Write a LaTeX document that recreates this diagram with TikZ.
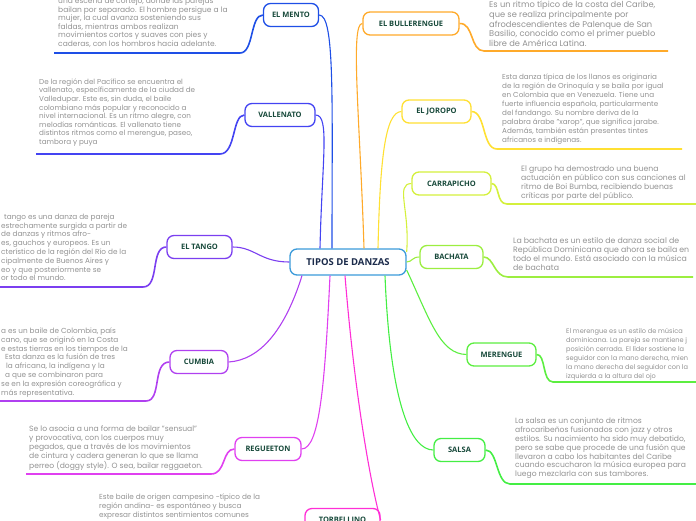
\documentclass[tikz,border=0pt]{standalone}
\usepackage{fontspec}
\setmainfont{Poppins}
\newfontfamily\titlefont{Open Sans}
\definecolor{cmento}{HTML}{1E4FE6}
\definecolor{cvall}{HTML}{4444F2}
\definecolor{ctango}{HTML}{7B3FF0}
\definecolor{ccumbia}{HTML}{B040F0}
\definecolor{creg}{HTML}{E040F0}
\definecolor{ctorb}{HTML}{FF2FD6}
\definecolor{cbull}{HTML}{FFAA2A}
\definecolor{cjor}{HTML}{FFE033}
\definecolor{ccarr}{HTML}{D4F03C}
\definecolor{cbach}{HTML}{9CEE40}
\definecolor{cmer}{HTML}{5CEE40}
\definecolor{csal}{HTML}{44EE44}
\definecolor{ccenter}{HTML}{3B9BDA}
\definecolor{notegray}{HTML}{929292}
\definecolor{titlegreen}{HTML}{17493A}
\definecolor{centertext}{HTML}{1A2A4A}
\begin{document}
\begin{tikzpicture}[x=1pt,y=-1pt,
  note/.style={anchor=north west, inner sep=0pt, align=left, text=notegray},
  topic/.style={draw, rounded corners=7pt, line width=1.3pt, fill=white, text=titlegreen,
    font=\titlefont\bfseries\fontsize{7.5}{9}\selectfont, minimum height=23pt, inner xsep=4pt},
  conn/.style={line width=1.1pt},
  uline/.style={line width=1.6pt}]
\useasboundingbox (0,0) rectangle (696,520);

% ---------- topics ----------
\node[topic, draw=ccenter, text=centertext, minimum width=116pt, minimum height=26pt,
  font=\titlefont\bfseries\fontsize{9.5}{11}\selectfont] (ctr) at (348,262) {TIPOS DE DANZAS};
\node[topic, draw=cmento, minimum width=55pt] (mento) at (291,15) {EL MENTO};
\node[topic, draw=cvall, minimum width=70pt] (vall) at (280,115) {VALLENATO};
\node[topic, draw=ctango, minimum width=65pt] (tango) at (199.5,247) {EL TANGO};
\node[topic, draw=ccumbia, minimum width=58pt] (cumbia) at (199,362) {CUMBIA};
\node[topic, draw=creg, minimum width=66pt] (reg) at (268,449) {REGUEETON};
\node[topic, draw=ctorb, minimum width=75pt] (torb) at (342.5,520) {TORBELLINO};
\node[topic, draw=cbull, minimum width=96pt] (bull) at (411,23.5) {EL BULLERENGUE};
\node[topic, draw=cjor, minimum width=69pt] (jor) at (436.5,111.5) {EL JOROPO};
\node[topic, draw=ccarr, minimum width=79pt] (carr) at (451.5,183.5) {CARRAPICHO};
\node[topic, draw=cbach, minimum width=63pt] (bach) at (451.5,257) {BACHATA};
\node[topic, draw=cmer, minimum width=69pt] (mer) at (501.5,354.5) {MERENGUE};
\node[topic, draw=csal, minimum width=51pt] (sal) at (459.5,450) {SALSA};

% ---------- connectors from centre ----------
\draw[conn, cmento] ([xshift=-16pt]ctr.north) .. controls (332,100) and (335,15) .. (mento.east);
\draw[conn, cvall] ([xshift=-28pt]ctr.north) .. controls (322,160) and (330,115) .. (vall.east);
\draw[conn, ctango] (ctr.west) .. controls (260,262) and (255,247) .. (tango.east);
\draw[conn, ccumbia] ([xshift=-46pt]ctr.south) .. controls (285,330) and (260,360) .. (cumbia.east);
\draw[conn, creg] ([xshift=-18pt]ctr.south) .. controls (325,380) and (320,449) .. (reg.east);
\draw[conn, ctorb] ([xshift=-3pt]ctr.south) .. controls (355,400) and (372,490) .. (torb.east);
\draw[conn, cbull] ([xshift=16pt]ctr.north) .. controls (360,120) and (350,23) .. (bull.west);
\draw[conn, cjor] ([xshift=30pt]ctr.north) .. controls (380,160) and (385,112) .. (jor.west);
\draw[conn, ccarr] ([yshift=10pt]ctr.east) .. controls (410,210) and (395,184) .. (carr.west);
\draw[conn, cbach] (ctr.east) .. controls (412,262) and (412,257) .. (bach.west);
\draw[conn, cmer] ([yshift=-8pt]ctr.east) .. controls (430,320) and (440,354) .. (mer.west);
\draw[conn, csal] ([xshift=37pt]ctr.south) .. controls (390,400) and (410,450) .. (sal.west);

% ---------- notes: left side ----------
\node[note, font=\fontsize{7.5}{8.5}\selectfont] (tmento) at (58,-2) {una escena de cortejo, donde las parejas\\
bailan por separado. El hombre persigue a la\\
mujer, la cual avanza sosteniendo sus\\
faldas, mientras ambos realizan\\
movimientos cortos y suaves con pies y\\
caderas, con los hombros hacia adelante.};
\coordinate (mentoL) at (54,53);
\coordinate (mentoR) at (240,53);
\draw[uline, cmento] (mentoL) -- (mentoR) .. controls (254,53) and (250,15) .. (mento.west);

\node[note, font=\fontsize{7.2}{8.6}\selectfont] (tvall) at (39,78.5) {De la región del Pacífico se encuentra el\\
vallenato, específicamente de la ciudad de\\
Valledupar. Este es, sin duda, el baile\\
colombiano más popular y reconocido a\\
nivel internacional. Es un ritmo alegre, con\\
melodías románticas. El vallenato tiene\\
distintos ritmos como el merengue, paseo,\\
tambora y puya};
\coordinate (vallL) at (36,154);
\coordinate (vallR) at (220,154);
\draw[uline, cvall] (vallL) -- (vallR) .. controls (236,154) and (232,115) .. (vall.west);

\node[note, font=\fontsize{7.3}{8.8}\selectfont] (ttango) at (1,213.5) {\hspace*{3pt}tango es una danza de pareja\\
estrechamente surgida a partir de\\
de danzas y ritmos afro-\\
es, gauchos y europeos. Es un\\
cterístico de la región del Río de la\\
cipalmente de Buenos Aires y\\
eo y que posteriormente se\\
or todo el mundo.};
\coordinate (tangoL) at (0,287);
\coordinate (tangoR) at (143,287);
\draw[uline, ctango] (tangoL) -- (tangoR) .. controls (160,287) and (150,247) .. (tango.west);

\node[note, font=\fontsize{7.3}{8.85}\selectfont] (tcumbia) at (1,327.5) {a es un baile de Colombia, país\\
cano, que se originó en la Costa\\
e estas tierras en los tiempos de la\\
\hspace*{4pt}Esta danza es la fusión de tres\\
\hspace*{5pt}la africana, la indígena y la\\
\hspace*{4pt}a que se combinaron para\\
se en la expresión coreográfica y\\
más representativa.};
\coordinate (cumbiaL) at (0,401);
\coordinate (cumbiaR) at (146,401);
\draw[uline, ccumbia] (cumbiaL) -- (cumbiaR) .. controls (162,401) and (152,362) .. (cumbia.west);

\node[note, font=\fontsize{7.6}{9.1}\selectfont] (treg) at (29,425) {Se lo asocia a una forma de bailar "sensual"\\
y provocativa, con los cuerpos muy\\
pegados, que a través de los movimientos\\
de cintura y cadera generan lo que se llama\\
perreo (doggy style). O sea, bailar reggaeton.};
\coordinate (regL) at (26,474);
\coordinate (regR) at (211,474);
\draw[uline, creg] (regL) -- (regR) .. controls (226,474) and (222,449) .. (reg.west);

\node[note, font=\fontsize{7.3}{9}\selectfont] (ttorb) at (99,493.5) {Este baile de origen campesino -típico de la\\
región andina- es espontáneo y busca\\
expresar distintos sentimientos comunes};

% ---------- notes: right side ----------
\node[note, font=\fontsize{8.3}{9.75}\selectfont] (tbull) at (489,1) {Es un ritmo típico de la costa del Caribe,\\
que se realiza principalmente por\\
afrodescendientes de Palenque de San\\
Basilio, conocido como el primer pueblo\\
libre de América Latina.};
\coordinate (bullL) at (484,51);
\coordinate (bullR) at (668,51);
\draw[uline, cbull] (bull.east) .. controls (474,23) and (470,51) .. (bullL) -- (bullR);

\node[note, font=\fontsize{7.2}{9}\selectfont] (tjor) at (502,73.5) {Esta danza típica de los llanos es originaria\\
de la región de Orinoquía y se baila por igual\\
en Colombia que en Venezuela. Tiene una\\
fuerte influencia española, particularmente\\
del fandango. Su nombre deriva de la\\
palabra árabe "xarop", que significa jarabe.\\
Además, también están presentes tintes\\
africanos e indígenas.};
\coordinate (jorL) at (497,149);
\coordinate (jorR) at (682,149);
\draw[uline, cjor] (jor.east) .. controls (486,112) and (482,149) .. (jorL) -- (jorR);

\node[note, font=\fontsize{7.7}{9}\selectfont] (tcarr) at (521,166) {El grupo ha demostrado una buena\\
actuación en público con sus canciones al\\
ritmo de Boi Bumba, recibiendo buenas\\
críticas por parte del público.};
\coordinate (carrL) at (507,204);
\coordinate (carrR) at (696,204);
\draw[uline, ccarr] (carr.east) .. controls (500,184) and (496,204) .. (carrL) -- (carrR);

\node[note, font=\fontsize{7.8}{9}\selectfont] (tbach) at (513,237) {La bachata es un estilo de danza social de\\
República Dominicana que ahora se baila en\\
todo el mundo. Está asociado con la música\\
de bachata};
\coordinate (bachL) at (508,277);
\coordinate (bachR) at (693,277);
\draw[uline, cbach] (bach.east) .. controls (494,257) and (494,277) .. (bachL) -- (bachR);

\node[note, font=\fontsize{6.6}{9}\selectfont] (tmer) at (566,328.5) {El merengue es un estilo de música\\
dominicana. La pareja se mantiene j\\
posición cerrada. El líder sostiene la\\
seguidor con la mano derecha, mien\\
la mano derecha del seguidor con la\\
izquierda a la altura del ojo};
\coordinate (merL) at (553,382);
\coordinate (merR) at (696,382);
\draw[uline, cmer] (mer.east) .. controls (546,354) and (542,382) .. (merL) -- (merR);

\node[note, font=\fontsize{7.6}{8.8}\selectfont] (tsal) at (515,418) {La salsa es un conjunto de ritmos\\
afrocaribeños fusionados con jazz y otros\\
estilos. Su nacimiento ha sido muy debatido,\\
pero se sabe que procede de una fusión que\\
llevaron a cabo los habitantes del Caribe\\
cuando escucharon la música europea para\\
luego mezclarla con sus tambores.};
\coordinate (salL) at (510,484);
\coordinate (salR) at (696,484);
\draw[uline, csal] (sal.east) .. controls (498,450) and (496,484) .. (salL) -- (salR);
\end{tikzpicture}
\end{document}
